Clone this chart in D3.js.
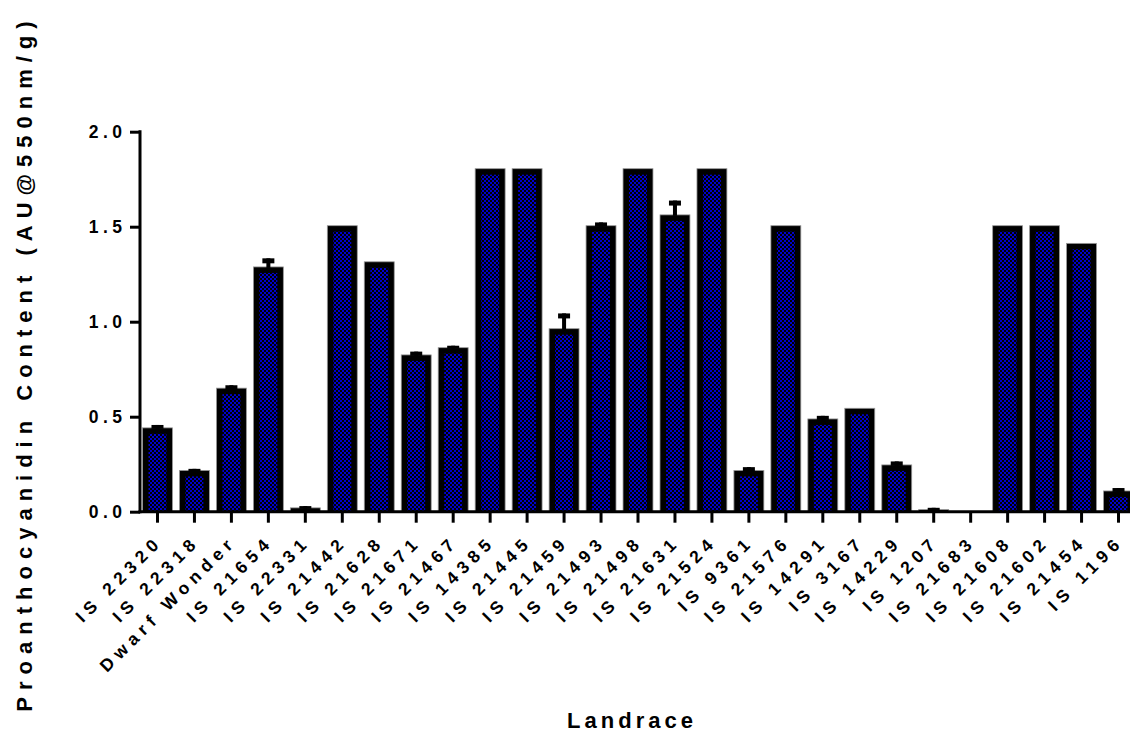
<!DOCTYPE html>
<html>
<head>
<meta charset="utf-8">
<script src="https://cdn.jsdelivr.net/npm/d3@7"></script>
<style>
  html, body { margin: 0; padding: 0; background: #fff; }
  svg { display: block; }
  text { font-family: "Liberation Sans", Arial, sans-serif; font-weight: bold; fill: #000; }
</style>
</head>
<body>
<script>
const categories = ["IS 22320","IS 22318","Dwarf Wonder","IS 21654","IS 22331","IS 21442","IS 21628","IS 21671","IS 21467","IS 14385","IS 21445","IS 21459","IS 21493","IS 21498","IS 21631","IS 21524","IS 9361","IS 21576","IS 14291","IS 3167","IS 14229","IS 1207","IS 21683","IS 21608","IS 21602","IS 21454","IS 1196"];
const means = [0.436,0.212,0.645,1.283,0.015,1.50,1.31,0.82,0.858,1.80,1.80,0.958,1.50,1.80,1.557,1.80,0.212,1.50,0.483,0.539,0.241,0.006,0,1.50,1.50,1.407,0.104];
const errors = [0.01,0.003,0.01,0.04,0.004,0,0,0.012,0.005,0,0,0.075,0.012,0,0.07,0,0.012,0,0.011,0,0.013,0.004,0,0,0,0,0.01];
const yTicks = [0.0,0.5,1.0,1.5,2.0];
const yTitle = "Proanthocyanidin Content (AU@550nm/g)";
const xTitle = "Landrace";

const W = 1130, H = 732;
const svg = d3.select("body").append("svg").attr("width", W).attr("height", H);

const defs = svg.append("defs");
const pat = defs.append("pattern").attr("id","checker").attr("patternUnits","userSpaceOnUse")
  .attr("width",4).attr("height",4);
pat.append("rect").attr("width",4).attr("height",4).attr("fill","#000");
pat.append("rect").attr("x",0).attr("y",0).attr("width",2).attr("height",2).attr("fill","#0000cc");
pat.append("rect").attr("x",2).attr("y",2).attr("width",2).attr("height",2).attr("fill","#0000cc");

const x = d3.scaleBand().domain(categories).range([139, 1137]).paddingInner(0.19).paddingOuter(0.095);
const y = d3.scaleLinear().domain([0, 2]).range([511.7, 131.7]);

const g = svg.append("g");

// bars
const bars = g.selectAll("g.bar").data(categories).enter().append("g").attr("class","bar");
const bw = x.bandwidth();
const border = 6;
bars.each(function(c, i) {
  const sel = d3.select(this);
  const v = means[i];
  if (v <= 0) return;
  const top = y(v) - 1;
  const h = y(0) - top;
  sel.append("rect").attr("x", x(c)).attr("y", top).attr("width", bw).attr("height", h)
    .attr("fill", "#000").attr("stroke", "#999").attr("stroke-width", 0.8);
  const ih = h - border;
  if (ih > 0) {
    sel.append("rect").attr("x", x(c) + border).attr("y", top + border)
      .attr("width", bw - 2*border).attr("height", ih).attr("fill", "url(#checker)");
  }
  const e = errors[i];
  if (e > 0) {
    const cx = x(c) + bw/2;
    const yTop = y(v + e) - 2;
    sel.append("rect").attr("x", cx - 2).attr("y", yTop).attr("width", 4).attr("height", top - yTop + 1).attr("fill","#000");
    sel.append("rect").attr("x", cx - 6).attr("y", yTop).attr("width", 12).attr("height", Math.min(5, top - yTop + 1)).attr("fill","#000");
  }
});

// y axis
const yAxis = d3.axisLeft(y).tickValues(yTicks).tickFormat(d3.format(".1f")).tickSize(10).tickPadding(8);
const yg = svg.append("g").attr("transform","translate(140,0)").call(yAxis);
yg.select(".domain").attr("stroke-width",3).attr("d", `M0,${y(2)-1.5}V${y(0)+1.5}`);
yg.selectAll(".tick line").attr("stroke-width",3);
yg.selectAll(".tick text").attr("font-size",17.5).attr("font-family",'"Liberation Sans", Arial, sans-serif')
  .attr("font-weight","bold").style("letter-spacing","4.5px").attr("dx","4.5px");

// x axis
const xAxis = d3.axisBottom(x).tickSize(11).tickPadding(0);
const xg = svg.append("g").attr("transform",`translate(0,${y(0)})`).call(xAxis);
xg.select(".domain").attr("stroke-width",3).attr("d", `M138.5,0H1140`);
xg.selectAll(".tick line").attr("stroke-width",3);
xg.selectAll(".tick text").attr("font-size",17.5).attr("font-family",'"Liberation Sans", Arial, sans-serif')
  .attr("font-weight","bold").style("letter-spacing","5.5px")
  .attr("text-anchor","end").attr("dy",null).attr("y",null)
  .attr("transform","translate(6,31) rotate(-45)");

// titles
svg.append("text").attr("transform","translate(32,363) rotate(-90)").attr("text-anchor","middle")
  .attr("font-size",22).style("letter-spacing","7px").text(yTitle);
svg.append("text").attr("x",632).attr("y",728).attr("text-anchor","middle")
  .attr("font-size",22).style("letter-spacing","4px").text(xTitle);
</script>
</body>
</html>
